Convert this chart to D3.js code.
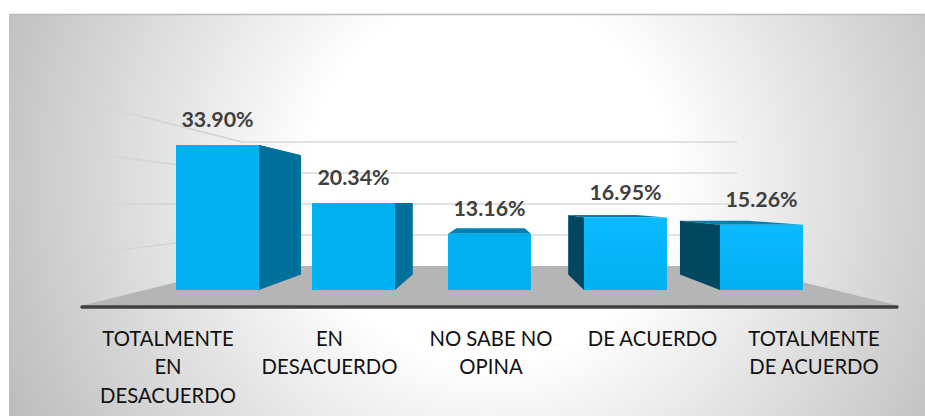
<!DOCTYPE html>
<html>
<head>
<meta charset="utf-8">
<script src="https://cdn.jsdelivr.net/npm/d3@7"></script>
<style>
  html, body { margin: 0; padding: 0; background: #fff; }
  svg { display: block; }
  text { font-family: Lato, "Open Sans", sans-serif; }
</style>
</head>
<body>
<div id="chart"></div>
<script>
const categories = ['TOTALMENTE EN DESACUERDO', 'EN DESACUERDO', 'NO SABE NO OPINA', 'DE ACUERDO', 'TOTALMENTE DE ACUERDO'];
const categoryLines = [['TOTALMENTE', 'EN', 'DESACUERDO'], ['EN', 'DESACUERDO'], ['NO SABE NO', 'OPINA'], ['DE ACUERDO'], ['TOTALMENTE', 'DE ACUERDO']];
const values = [33.90, 20.34, 13.16, 16.95, 15.26];
const valueLabels = ['33.90%', '20.34%', '13.16%', '16.95%', '15.26%'];
const gridTicks = [10, 20, 30, 40];

const width = 925, height = 416;
const baseY = 290, maxTopY = 145;
const vanish = { x: 495, y: 203 }, depth = 0.178;

const svg = d3.select('#chart').append('svg').attr('width', width).attr('height', height);
const defs = svg.append('defs');

const bg = defs.append('radialGradient').attr('id', 'bg')
  .attr('gradientUnits', 'userSpaceOnUse')
  .attr('cx', 490).attr('cy', 180).attr('r', 530);
bg.append('stop').attr('offset', '0.34').attr('stop-color', '#ffffff');
bg.append('stop').attr('offset', '1').attr('stop-color', '#bdbdbd');

const fade = defs.append('linearGradient').attr('id', 'fade')
  .attr('gradientUnits', 'userSpaceOnUse')
  .attr('x1', 76).attr('x2', 170).attr('y1', 0).attr('y2', 0);
fade.append('stop').attr('offset', '0').attr('stop-color', '#cfcfcf').attr('stop-opacity', 0);
fade.append('stop').attr('offset', '1').attr('stop-color', '#d2d2d2');

const front = defs.append('linearGradient').attr('id', 'frontLight').attr('x1', 0).attr('x2', 0).attr('y1', 0).attr('y2', 1);
front.append('stop').attr('offset', '0').attr('stop-color', '#0cbaff');
front.append('stop').attr('offset', '1').attr('stop-color', '#00b0f0');

// plot panel
svg.append('rect').attr('x', 9).attr('y', 14).attr('width', width - 9).attr('height', height - 14)
  .attr('fill', 'url(#bg)');
svg.append('line').attr('x1', 9).attr('x2', width).attr('y1', 14.5).attr('y2', 14.5)
  .attr('stroke', '#bcbcbc').attr('stroke-width', 1.5);

// scales
const x = d3.scaleBand().domain(categories).range([149.5, 829.5]).paddingInner(0.39).paddingOuter(0.195);
const y = d3.scaleLinear().domain([0, 33.9]).range([baseY, maxTopY]);
const wallY = d3.scaleLinear().domain([0, 40]).range([266, 142]);
const sideY = d3.scaleLinear().domain([0, 40]).range([306, 101]);
const labelX = d3.scalePoint().domain(categories).range([168, 814]);

// walls and floor
const wallLeft = 242, wallRight = 737;
gridTicks.forEach(t => {
  svg.append('line').attr('x1', wallLeft).attr('x2', wallRight)
    .attr('y1', wallY(t)).attr('y2', wallY(t))
    .attr('stroke', '#d9d9d9').attr('stroke-width', 1.5);
  svg.append('line').attr('x1', 80).attr('x2', wallLeft)
    .attr('y1', sideY(t)).attr('y2', wallY(t))
    .attr('stroke', 'url(#fade)').attr('stroke-width', 1.5);
});
svg.append('path')
  .attr('d', d3.line()([[80, sideY(0)], [wallLeft, wallY(0)], [wallRight, wallY(0)], [900, sideY(0)]]))
  .attr('fill', '#b5b5b5');
svg.append('line').attr('x1', 82).attr('x2', 897).attr('y1', 307).attr('y2', 307)
  .attr('stroke', '#404040').attr('stroke-width', 3.5).attr('stroke-linecap', 'round');

// project a front point back along the depth of the box
const back = (px, py) => [px + (vanish.x - px) * depth, py + (vanish.y - py) * depth];
const poly = d3.line();

const bars = svg.append('g').selectAll('g').data(categories).join('g');
bars.each(function(c, i) {
  const g = d3.select(this);
  const x0 = x(c), x1 = x0 + x.bandwidth();
  const top = y(values[i]);
  // whichever side faces the middle of the chart is visible
  const sx = x1 < vanish.x ? x1 : (x0 > vanish.x ? x0 : null);
  g.append('path').attr('fill', '#0080b0')
    .attr('d', poly([[x0, top], back(x0, top), back(x1, top), [x1, top]]));
  if (sx !== null) {
    g.append('path').attr('fill', sx === x1 ? '#006f9a' : '#00475f')
      .attr('d', poly([[sx, top], back(sx, top), back(sx, baseY), [sx, baseY]]));
  }
  g.append('rect').attr('x', x0).attr('y', top)
    .attr('width', x.bandwidth()).attr('height', baseY - top)
    .attr('fill', i >= 3 ? 'url(#frontLight)' : '#00b0f0');
});

// value labels
svg.append('g').selectAll('text').data(categories).join('text')
  .attr('x', c => x(c) + x.bandwidth() / 2)
  .attr('y', (c, i) => y(values[i]) - 18)
  .attr('text-anchor', 'middle')
  .attr('font-size', 21.4).attr('font-weight', 700).attr('fill', '#404040')
  .text((c, i) => valueLabels[i]);

// category labels
const catText = svg.append('g').selectAll('text').data(categories).join('text')
  .attr('text-anchor', 'middle')
  .attr('font-size', 20.3).attr('fill', '#111111');
catText.each(function(c, i) {
  d3.select(this).selectAll('tspan').data(categoryLines[i]).join('tspan')
    .attr('x', labelX(c))
    .attr('y', (d, k) => 345.7 + k * 28.7)
    .text(d => d);
});
</script>
</body>
</html>
